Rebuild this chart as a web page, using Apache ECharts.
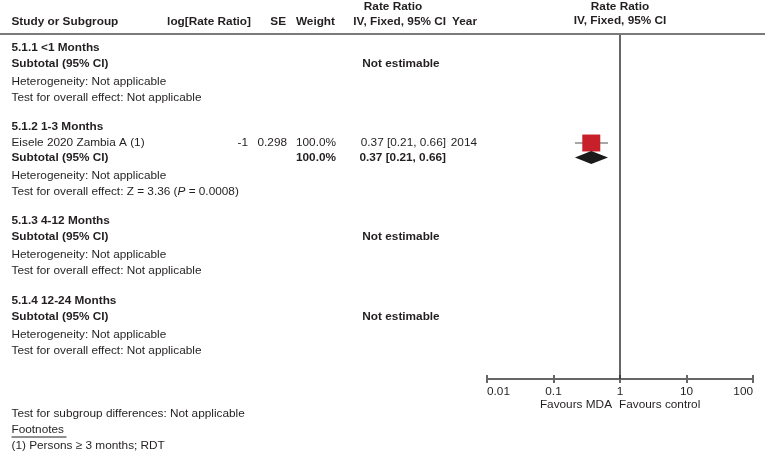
<!DOCTYPE html>
<html><head><meta charset="utf-8">
<script src="https://cdn.jsdelivr.net/npm/echarts@6/dist/echarts.min.js"></script>
<style>html,body{margin:0;padding:0;background:#fff}#c{width:765px;height:455px}</style>
</head><body><div id="c"></div>
<script>
// ---- data ----
const subgroupTitles = ['5.1.1 <1 Months', '5.1.2 1-3 Months', '5.1.3 4-12 Months', '5.1.4 12-24 Months'];
const studyNames = ['Eisele 2020 Zambia A (1)'];
const studyGroup = [1];
const studyLogRR = ['-1'];
const studySE = ['0.298'];
const studyWeight = [100.0];
const studyRR = [0.37];
const studyLo = [0.21];
const studyHi = [0.66];
const studyYear = ['2014'];
const subtotalWeight = [null, 100.0, null, null];
const subtotalRR = [null, 0.37, null, null];
const subtotalLo = [null, 0.21, null, null];
const subtotalHi = [null, 0.66, null, null];
const heterogeneity = ['Not applicable', 'Not applicable', 'Not applicable', 'Not applicable'];
const overallEffect = ['Not applicable', 'Z = 3.36 ({i|P} = 0.0008)', 'Not applicable', 'Not applicable'];
const xTickLabels = ['0.01', '0.1', '1', '10', '100'];
const favoursLeft = 'Favours MDA';
const favoursRight = 'Favours control';
const subgroupDiff = 'Test for subgroup differences: Not applicable';
const footnotes = ['(1) Persons \u2265 3 months; RDT'];

// ---- style / layout ----
const FF = '"Liberation Sans", Arial, sans-serif';
const FS = 11.8;
const INK = '#231f20';
const LEFT = 11.5;
const COL = {logrr: 248, se: 287, weight: 336, ci: 446, year: 477, nonest: 401};
const HEADER_LINE_Y = 34;
const AXIS_Y = 379;

const fmt2 = v => v.toFixed(2);
const ciText = (r, l, h) => fmt2(r) + ' [' + fmt2(l) + ', ' + fmt2(h) + ']';
const wText = w => w.toFixed(1) + '%';

const G = [];
function T(s, x, y, o) {
  o = o || {};
  G.push({type: 'text', x: x, y: y, silent: true, z: 10,
    style: {text: s, fill: INK, fontSize: FS, fontFamily: FF,
      fontWeight: o.bold ? 'bold' : 'normal', align: o.align || 'left', verticalAlign: 'middle',
      rich: {i: {fontStyle: 'italic', fontSize: FS, fontFamily: FF, fill: INK}}}});
}

// headers
T('Study or Subgroup', LEFT, 22, {bold: true});
T('log[Rate Ratio]', 251, 22, {bold: true, align: 'right'});
T('SE', 286, 22, {bold: true, align: 'right'});
T('Weight', 335, 22, {bold: true, align: 'right'});
T('Rate Ratio', 393, 7, {bold: true, align: 'center'});
T('IV, Fixed, 95% CI', 446, 22, {bold: true, align: 'right'});
T('Year', 477, 22, {bold: true, align: 'right'});
T('Rate Ratio', 620, 7, {bold: true, align: 'center'});
T('IV, Fixed, 95% CI', 620, 21, {bold: true, align: 'center'});
G.push({type: 'line', silent: true, shape: {x1: 0, y1: HEADER_LINE_Y, x2: 765, y2: HEADER_LINE_Y},
  style: {stroke: '#7a7a7a', lineWidth: 2}});

// body rows
const studyPts = [];
const diamondPts = [];
let y = 47.5;
subgroupTitles.forEach((title, g) => {
  T(title, LEFT, y, {bold: true}); y += 16;
  studyNames.forEach((nm, s) => {
    if (studyGroup[s] !== g) return;
    T(nm, LEFT, y);
    T(studyLogRR[s], COL.logrr, y, {align: 'right'});
    T(studySE[s], COL.se, y, {align: 'right'});
    T(wText(studyWeight[s]), COL.weight, y, {align: 'right'});
    T(ciText(studyRR[s], studyLo[s], studyHi[s]), COL.ci, y, {align: 'right'});
    T(studyYear[s], COL.year, y, {align: 'right'});
    studyPts.push([studyLo[s], studyHi[s], studyRR[s], y, studyWeight[s]]);
    y += 14.5;
  });
  T('Subtotal (95% CI)', LEFT, y, {bold: true});
  if (subtotalRR[g] == null) {
    T('Not estimable', COL.nonest, y, {bold: true, align: 'center'});
  } else {
    T(wText(subtotalWeight[g]), COL.weight, y, {bold: true, align: 'right'});
    T(ciText(subtotalRR[g], subtotalLo[g], subtotalHi[g]), COL.ci, y, {bold: true, align: 'right'});
    diamondPts.push([subtotalLo[g], subtotalHi[g], subtotalRR[g], y]);
  }
  y += 18;
  T('Heterogeneity: ' + heterogeneity[g], LEFT, y); y += 16;
  T('Test for overall effect: ' + overallEffect[g], LEFT, y); y += 29.5;
});

// bottom
T(subgroupDiff, LEFT, 414);
T('Footnotes', LEFT, 430);
G.push({type: 'line', silent: true, shape: {x1: LEFT, y1: 437, x2: LEFT + 55, y2: 437},
  style: {stroke: INK, lineWidth: 1}});
footnotes.forEach((f, i) => T(f, LEFT, 446 + 16 * i));
T(favoursLeft, 612, 405, {align: 'right'});
T(favoursRight, 619, 405, {align: 'left'});

const axisBase = {
  type: 'log', logBase: 10, min: 0.01, max: 100, position: 'bottom', offset: 0,
  splitLine: {show: false}, minorTick: {show: false}
};
const option = {
  animation: false,
  grid: {left: 487, right: 12, top: 0, bottom: 455 - AXIS_Y},
  xAxis: [
    Object.assign({}, axisBase, {
      axisLine: {show: true, onZero: false, lineStyle: {color: '#666', width: 2}},
      axisTick: {show: true, length: 4, lineStyle: {color: '#666', width: 2}},
      axisLabel: {color: INK, fontSize: FS, fontFamily: FF, margin: 7,
        alignMinLabel: 'left', alignMaxLabel: 'right',
        formatter: v => xTickLabels[Math.round(Math.log10(v)) + 2]}
    }),
    Object.assign({}, axisBase, {
      axisLine: {show: false, onZero: false},
      axisTick: {show: true, inside: true, length: 4, lineStyle: {color: '#666', width: 2}},
      axisLabel: {show: false}
    })
  ],
  yAxis: {type: 'value', min: 0, max: AXIS_Y, inverse: true, show: false},
  graphic: G,
  series: [
    {
      type: 'custom', clip: false, z: 2, data: [[1, 1]], encode: {x: 0, y: 1},
      renderItem: (params, api) => {
        const a = api.coord([api.value(0), HEADER_LINE_Y + 1]);
        const b = api.coord([api.value(0), AXIS_Y]);
        return {type: 'line', shape: {x1: a[0], y1: a[1], x2: b[0], y2: b[1]},
          style: {stroke: '#333', lineWidth: 1.5}};
      }
    },
    {
      type: 'custom', clip: false, z: 3, data: studyPts, encode: {x: [0, 1, 2], y: 3},
      renderItem: (params, api) => {
        const lo = api.coord([api.value(0), api.value(3)]);
        const hi = api.coord([api.value(1), api.value(3)]);
        const c = api.coord([api.value(2), api.value(3)]);
        const s = 18 * Math.sqrt(api.value(4) / 100);
        return {type: 'group', children: [
          {type: 'line', shape: {x1: lo[0], y1: lo[1], x2: hi[0], y2: hi[1]},
            style: {stroke: '#8a8a8a', lineWidth: 1.5}},
          {type: 'rect', shape: {x: c[0] - s / 2, y: c[1] - s * 0.47, width: s, height: s * 0.94},
            style: {fill: '#c8202b'}}
        ]};
      }
    },
    {
      type: 'custom', clip: false, z: 3, data: diamondPts, encode: {x: [0, 1, 2], y: 3},
      renderItem: (params, api) => {
        const lo = api.coord([api.value(0), api.value(3)]);
        const hi = api.coord([api.value(1), api.value(3)]);
        const c = api.coord([api.value(2), api.value(3)]);
        const h = 6.5;
        return {type: 'polygon', shape: {points: [[lo[0], lo[1]], [c[0], c[1] - h], [hi[0], hi[1]], [c[0], c[1] + h]]},
          style: {fill: '#1a1a1a'}};
      }
    }
  ]
};
echarts.init(document.getElementById('c')).setOption(option);
</script></body></html>
